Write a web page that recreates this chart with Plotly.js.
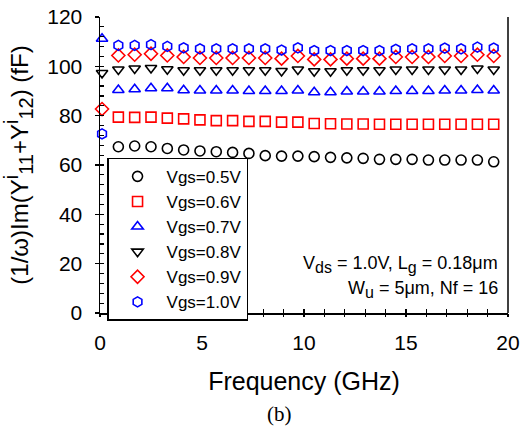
<!DOCTYPE html>
<html>
<head>
<meta charset="utf-8">
<script src="https://cdn.plot.ly/plotly-3.0.1.min.js"></script>
<style>html,body{margin:0;padding:0;background:#fff;}#chart{width:523px;height:439px;}</style>
</head>
<body>
<div id="chart"></div>
<script>
const freq = [0.1, 0.9, 1.7, 2.5, 3.3, 4.1, 4.9, 5.7, 6.5, 7.3, 8.1, 8.9, 9.7, 10.5, 11.3, 12.1, 12.9, 13.7, 14.5, 15.3, 16.1, 16.9, 17.7, 18.5, 19.3];
const vgs05 = [null, 67.4, 67.7, 67.4, 66.7, 66.1, 65.7, 65.4, 65.1, 64.7, 63.8, 63.6, 63.6, 63.4, 63.1, 62.9, 62.7, 62.3, 62.3, 62.3, 62.0, 62.0, 62.0, 62.0, 61.3];
const vgs06 = [null, 79.4, 79.3, 79.4, 79.0, 78.7, 78.3, 78.0, 78.0, 77.7, 77.7, 77.4, 77.4, 76.8, 76.7, 76.6, 76.6, 76.5, 76.5, 76.5, 76.5, 76.5, 76.5, 76.5, 76.5];
const vgs07 = [111.2, 90.4, 90.7, 91.1, 91.1, 90.3, 90.2, 90.2, 90.2, 90.0, 90.0, 90.0, 90.2, 89.5, 89.5, 89.8, 89.8, 89.8, 90.0, 90.0, 90.0, 90.2, 90.2, 90.4, 90.2];
const vgs08 = [97.3, 98.7, 99.1, 99.3, 98.8, 98.4, 98.4, 98.4, 98.4, 98.4, 98.4, 98.1, 98.7, 98.0, 98.0, 98.4, 98.4, 98.4, 98.7, 98.7, 98.7, 98.7, 98.7, 99.1, 98.7];
const vgs09 = [82.7, 104.4, 104.7, 105.1, 104.4, 103.8, 103.4, 103.4, 103.4, 103.4, 103.4, 103.1, 104.2, 102.8, 102.8, 103.1, 103.1, 103.1, 103.8, 103.8, 103.8, 104.2, 104.2, 104.7, 104.2];
const vgs10 = [72.6, 108.5, 108.5, 108.8, 108.1, 107.5, 107.1, 107.1, 107.1, 107.1, 107.1, 106.6, 107.5, 106.4, 106.4, 106.4, 106.4, 106.4, 106.9, 107.1, 107.1, 107.4, 107.1, 107.8, 107.4];

const seriesNames = ['Vgs=0.5V', 'Vgs=0.6V', 'Vgs=0.7V', 'Vgs=0.8V', 'Vgs=0.9V', 'Vgs=1.0V'];
const seriesData = [vgs05, vgs06, vgs07, vgs08, vgs09, vgs10];
const symbols = ['circle-open', 'square-open', 'triangle-up-open', 'triangle-down-open', 'diamond-open', 'hexagon-open'];
const colors = ['#000000', '#ff0000', '#0000ff', '#000000', '#ff0000', '#0000ff'];

const FONT = 'Liberation Sans, Arial, Helvetica, sans-serif';

const traces = seriesData.map((ys, i) => ({
  x: freq, y: ys, name: seriesNames[i], type: 'scatter', mode: 'markers',
  marker: {symbol: symbols[i], size: 10, color: colors[i], line: {color: colors[i], width: 1.6}},
  cliponaxis: false
}));

function big(s, px) { return '<span style="font-size:' + px + 'px">' + s + '</span>'; }

const layout = {
  width: 523, height: 439,
  margin: {l: 99.5, r: 15, t: 16.5, b: 125.5},
  paper_bgcolor: '#fff', plot_bgcolor: '#fff',
  font: {family: FONT, color: '#000', size: 21},
  showlegend: true,
  xaxis: {
    range: [0, 20], dtick: 5, tick0: 0, showgrid: false, zeroline: false,
    showline: true, linecolor: '#000', linewidth: 1.5,
    ticks: 'inside', ticklen: 4, tickwidth: 1.2, tickcolor: '#000',
    minor: {dtick: 1, ticks: 'inside', ticklen: 4, tickwidth: 1.2, tickcolor: '#000'},
    tickfont: {size: 21, family: FONT}, ticklabelstandoff: 10,
    title: {text: 'Frequency (GHz)', font: {size: 25, family: FONT}, standoff: 20},
    automargin: false, fixedrange: true
  },
  xaxis2: {
    overlaying: 'x', anchor: 'y', side: 'bottom', range: [0, 20], dtick: 5, tick0: 0,
    showgrid: false, zeroline: false, showline: false, showticklabels: false,
    ticks: 'outside', ticklen: 3, tickwidth: 1.2, tickcolor: '#000',
    minor: {dtick: 1, ticks: 'outside', ticklen: 3, tickwidth: 1.2, tickcolor: '#000'},
    automargin: false, fixedrange: true
  },
  yaxis: {
    range: [0, 120], dtick: 20, tick0: 0, showgrid: false, zeroline: false,
    showline: true, linecolor: '#000', linewidth: 1.5,
    ticks: 'inside', ticklen: 4, tickwidth: 1.2, tickcolor: '#000',
    minor: {dtick: 4, ticks: 'inside', ticklen: 4, tickwidth: 1.2, tickcolor: '#000'},
    tickfont: {size: 21, family: FONT}, ticklabelstandoff: 12,
    title: {text: '(1/\u03c9)Im(Y<sup>' + big('i', 20) + '</sup><sub>' + big('11', 20) + '</sub>+Y<sup>' + big('i', 20) + '</sup><sub>' + big('12', 20) + '</sub>) (fF)', font: {size: 24, family: FONT}, standoff: 14},
    automargin: false, fixedrange: true
  },
  yaxis2: {
    overlaying: 'y', anchor: 'x', side: 'left', range: [0, 120], dtick: 20, tick0: 0,
    showgrid: false, zeroline: false, showline: false, showticklabels: false,
    ticks: 'outside', ticklen: 4, tickwidth: 1.2, tickcolor: '#000',
    automargin: false, fixedrange: true
  },
  legend: {
    x: 0.018, y: 0.525, xanchor: 'left', yanchor: 'top',
    bgcolor: '#fff', bordercolor: '#000', borderwidth: 1.2,
    font: {size: 17, family: FONT}, itemwidth: 48, tracegroupgap: 0
  },
  shapes: [
    {type: 'line', xref: 'paper', yref: 'paper', x0: 1, x1: 1, y0: 0, y1: 1, line: {color: '#000', width: 1.5}}
  ],
  annotations: [
    {xref: 'paper', yref: 'paper', x: 0.98, y: 0.165, xanchor: 'right', yanchor: 'middle', showarrow: false,
     text: 'V<sub>' + big('ds', 16) + '</sub> = 1.0V, L<sub>' + big('g', 16) + '</sub> = 0.18\u03bcm', font: {size: 18, family: FONT}},
    {xref: 'paper', yref: 'paper', x: 0.98, y: 0.078, xanchor: 'right', yanchor: 'middle', showarrow: false,
     text: 'W<sub>' + big('u', 16) + '</sub> = 5\u03bcm, Nf = 16', font: {size: 18, family: FONT}, align: 'right'},
    {xref: 'paper', yref: 'paper', x: 0.44, y: -0.34, xanchor: 'center', yanchor: 'middle', showarrow: false,
     text: '(b)', font: {size: 21, family: 'Liberation Serif, Times New Roman, serif'}}
  ]
};

const dummyX2 = {x: [0], y: [0], xaxis: 'x2', yaxis: 'y2', mode: 'markers', marker: {opacity: 0}, showlegend: false, hoverinfo: 'skip'};
Plotly.newPlot('chart', traces.concat([dummyX2]), layout, {staticPlot: true});
</script>
</body>
</html>
